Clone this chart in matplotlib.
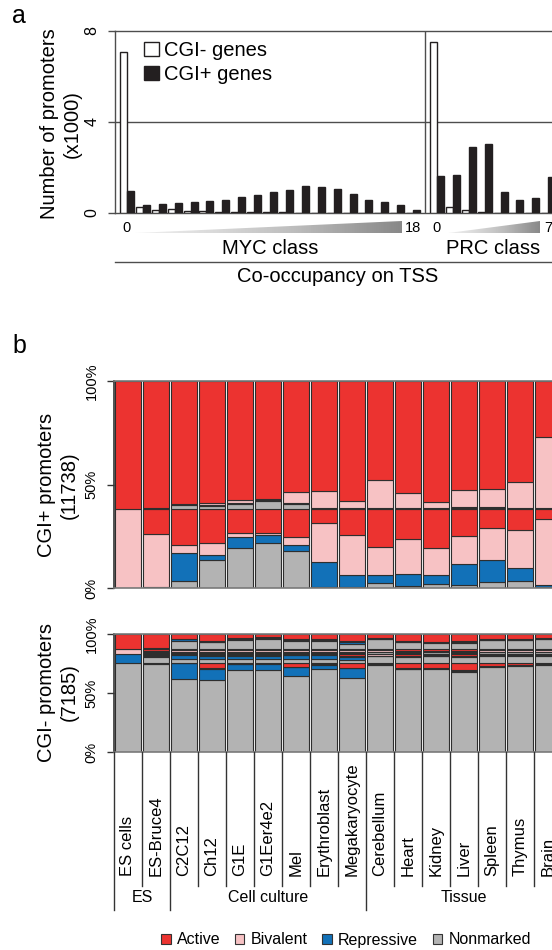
import matplotlib
matplotlib.use('Agg')
import matplotlib.pyplot as plt
import numpy as np
from matplotlib.patches import Patch, Polygon

plt.rcParams['font.family'] = ['Liberation Sans', 'DejaVu Sans']

# ---------------- panel a: number of promoters (x1000) per co-occupancy class
myc_classes = np.arange(19)
myc_cgi_neg = [7.09, 0.26, 0.15, 0.16, 0.10, 0.10, 0.05, 0.04, 0.04, 0.03,
               0.03, 0.02, 0.02, 0.02, 0.01, 0.01, 0.01, 0.01, 0.0]
myc_cgi_pos = [0.97, 0.34, 0.38, 0.44, 0.48, 0.54, 0.59, 0.70, 0.81, 0.91,
               1.01, 1.19, 1.13, 1.07, 0.85, 0.59, 0.48, 0.34, 0.12]
prc_classes = np.arange(8)
prc_cgi_neg = [7.53, 0.25, 0.15, 0.05, 0.02, 0.01, 0.01, 0.01]
prc_cgi_pos = [1.63, 1.68, 2.92, 3.02, 0.92, 0.56, 0.66, 1.57]

# ---------------- panel b: chromatin states (% of promoters)
cell_types = ['ES cells', 'ES-Bruce4', 'C2C12', 'Ch12', 'G1E', 'G1Eer4e2', 'Mel',
              'Erythroblast', 'Megakaryocyte', 'Cerebellum', 'Heart', 'Kidney',
              'Liver', 'Spleen', 'Thymus', 'Brain']
groups = ['ES', 'Cell culture', 'Tissue']
group_sizes = [2, 7, 7]
states = ['Nonmarked', 'Repressive', 'Bivalent', 'Active']

# CGI+ promoters, split by their state in ES cells; rows = cell types,
# columns = [Nonmarked, Repressive, Bivalent, Active]
pos_from_bivalent = [
    [0.0, 0.0, 38.3, 0.0], [0.5, 0.0, 25.6, 12.2], [3.2, 13.6, 4.2, 17.3],
    [13.7, 2.4, 5.4, 16.8], [19.4, 5.1, 2.3, 11.5], [21.9, 3.6, 1.0, 11.8],
    [17.7, 3.3, 3.8, 13.5], [0.5, 12.1, 18.9, 6.8], [0.5, 5.6, 19.4, 12.8],
    [2.6, 3.5, 13.6, 18.6], [1.0, 5.8, 17.1, 14.4], [1.9, 4.2, 13.3, 18.9],
    [1.6, 9.9, 13.7, 13.1], [2.9, 10.5, 15.8, 9.1], [3.4, 6.4, 18.3, 10.2],
    [0.3, 1.3, 31.6, 5.1]]
pos_from_active = [
    [0.0, 0.0, 0.0, 61.7], [0.3, 0.0, 0.2, 61.2], [1.6, 0.6, 0.3, 59.2],
    [1.4, 0.3, 0.9, 59.1], [2.5, 0.3, 1.2, 57.7], [3.6, 0.6, 0.3, 57.2],
    [2.5, 0.4, 5.0, 53.8], [0.3, 0.2, 7.9, 53.3], [0.3, 0.0, 3.5, 57.9],
    [0.0, 0.3, 13.5, 47.9], [0.0, 0.2, 7.3, 54.2], [0.0, 0.2, 3.1, 58.4],
    [0.4, 0.4, 8.2, 52.7], [0.3, 0.5, 8.8, 52.1], [0.0, 0.3, 12.4, 49.0],
    [0.0, 0.2, 34.6, 26.9]]

# CGI- promoters, split by their state in ES cells
neg_from_nonmarked = [
    [75.7, 0.0, 0.0, 0.0], [75.2, 0.2, 0.1, 0.2], [62.3, 13.0, 0.2, 0.2],
    [60.9, 10.0, 0.3, 4.5], [69.4, 5.2, 0.3, 0.8], [69.4, 5.8, 0.2, 0.3],
    [64.6, 7.6, 0.5, 3.0], [70.9, 3.4, 0.2, 1.2], [62.9, 8.5, 0.3, 4.0],
    [74.3, 0.5, 0.5, 0.4], [70.3, 0.5, 0.5, 4.4], [71.0, 0.3, 0.3, 4.1],
    [68.0, 0.8, 0.6, 6.3], [72.3, 0.5, 0.3, 2.6], [73.5, 0.4, 0.3, 1.5],
    [74.0, 0.5, 0.6, 0.6]]
neg_from_repressive = [
    [0.0, 8.0, 0.0, 0.0], [5.2, 0.8, 0.6, 1.4], [3.2, 3.4, 0.6, 0.8],
    [3.7, 2.5, 0.8, 1.0], [3.7, 2.2, 0.8, 1.3], [3.4, 2.4, 0.8, 1.4],
    [3.4, 3.0, 0.6, 1.0], [3.4, 3.2, 0.6, 0.8], [2.3, 2.4, 0.8, 2.5],
    [5.5, 0.6, 1.2, 0.7], [5.0, 0.5, 0.8, 1.7], [5.5, 0.4, 0.6, 1.5],
    [5.0, 0.5, 0.8, 1.7], [6.0, 0.4, 0.8, 0.8], [6.0, 0.4, 0.8, 0.8],
    [6.2, 0.4, 0.8, 0.6]]
neg_from_bivalent = [
    [0.0, 0.0, 3.7, 0.0], [0.5, 0.5, 1.2, 1.5], [0.6, 1.0, 1.1, 1.0],
    [0.6, 0.8, 1.3, 1.0], [0.6, 0.9, 1.2, 1.0], [0.6, 0.9, 1.2, 1.0],
    [0.6, 0.9, 1.2, 1.0], [0.5, 0.9, 1.3, 1.0], [0.5, 0.9, 1.3, 1.0],
    [1.0, 0.4, 1.3, 1.0], [0.8, 0.4, 1.2, 1.3], [1.0, 0.3, 1.2, 1.2],
    [0.8, 0.4, 1.2, 1.3], [1.0, 0.4, 1.3, 1.0], [1.0, 0.4, 1.3, 1.0],
    [1.0, 0.4, 1.3, 1.0]]
neg_from_active = [
    [0.0, 0.0, 0.0, 12.6], [0.6, 0.3, 0.3, 11.4], [6.9, 1.4, 0.6, 3.7],
    [5.7, 0.6, 0.6, 5.7], [7.4, 1.2, 0.8, 3.2], [8.3, 1.4, 0.6, 2.3],
    [6.8, 0.8, 0.6, 4.4], [6.6, 1.4, 1.0, 3.6], [4.5, 1.6, 0.8, 5.7],
    [8.4, 0.6, 0.6, 3.0], [5.9, 0.4, 0.6, 5.7], [5.5, 0.4, 0.4, 6.3],
    [5.5, 0.5, 0.9, 5.7], [7.6, 0.4, 0.6, 4.0], [7.6, 0.4, 0.6, 4.0],
    [8.6, 0.4, 0.6, 3.0]]

state_colors = {'Active': '#ec3330', 'Bivalent': '#f7c2c4',
                'Repressive': '#1271b8', 'Nonmarked': '#b3b3b3'}
dark = '#231f20'
line_col = '#4d4d4d'

W, H = 552, 950
fig = plt.figure(figsize=(W / 100, H / 100), dpi=100)


def fx(px):
    return px / W


def fy(py):
    return 1 - py / H


# ======================= panel a =======================
unit = 15.9
a_left, a_top, a_bot = 115, 31, 213
a_w = 28 * unit
ax = fig.add_axes([fx(a_left), fy(a_bot), a_w / W, (a_bot - a_top) / H])
x_myc = myc_classes.astype(float)
x_prc = prc_classes + 19.5
ax.bar(x_myc - 0.22, myc_cgi_neg, width=0.44, color='white', edgecolor=dark, lw=1, zorder=3)
ax.bar(x_myc + 0.22, myc_cgi_pos, width=0.44, color=dark, edgecolor=dark, lw=1, zorder=3)
ax.bar(x_prc - 0.22, prc_cgi_neg, width=0.44, color='white', edgecolor=dark, lw=1, zorder=3)
ax.bar(x_prc + 0.22, prc_cgi_pos, width=0.44, color=dark, edgecolor=dark, lw=1, zorder=3)
ax.axhline(4, color=line_col, lw=1, zorder=1)
ax.axvline(18.75, color=line_col, lw=1, zorder=1)
ax.set_xlim(-0.75, 27.25)
ax.set_ylim(0, 8)
ax.set_xticks([])
ax.set_yticks([0, 4, 8])
ax.tick_params(axis='y', length=5, width=1, color=line_col, labelsize=11.5,
               labelrotation=90, pad=6)
for lab in ax.get_yticklabels():
    lab.set_va('center')
for s in ['left', 'bottom', 'top']:
    ax.spines[s].set_color(line_col)
    ax.spines[s].set_linewidth(1)
ax.spines['right'].set_visible(False)
ax.legend([Patch(facecolor='white', edgecolor=dark), Patch(facecolor=dark, edgecolor=dark)],
          ['CGI- genes', 'CGI+ genes'], loc='upper left', bbox_to_anchor=(0.043, 1.0),
          frameon=False, fontsize=14.5, borderpad=0, handlelength=0.72, handleheight=0.68,
          handletextpad=0.25, labelspacing=0.25)

# annotation strip under panel a (y in pixels)
ax2 = fig.add_axes([fx(a_left), fy(285), a_w / W, (285 - a_bot) / H])
ax2.set_xlim(-0.75, 27.25)
ax2.set_ylim(285, a_bot)
ax2.axis('off')
grad = np.linspace(0.12, 0.55, 256).reshape(1, -1)
for x0, x1 in [(0.5, 17.3), (20.2, 26.0)]:
    tri = Polygon([(x0, 233), (x1, 233), (x1, 221)], closed=True, facecolor='none',
                  edgecolor='none')
    ax2.add_patch(tri)
    im = ax2.imshow(grad, cmap='Greys', vmin=0, vmax=1, aspect='auto',
                    extent=[x0, x1, 233, 221], interpolation='bilinear')
    im.set_clip_path(tri)
for xv, t in [(0, '0'), (18, '18'), (19.5, '0'), (26.5, '7')]:
    ax2.text(xv, 228, t, ha='center', va='center', fontsize=10.5)
ax2.text(9, 248, 'MYC class', ha='center', va='center', fontsize=14.5)
ax2.text(23, 248, 'PRC class', ha='center', va='center', fontsize=14.5)
ax2.plot([-0.75, 27.25], [262, 262], color=line_col, lw=1, clip_on=False)
ax2.text(13.25, 277, 'Co-occupancy on TSS', ha='center', va='center', fontsize=14.5)

fig.text(fx(61), fy(124), 'Number of promoters\n(x1000)', rotation=90, ha='center',
         va='center', fontsize=14.5, multialignment='center')
fig.text(fx(19), fy(16), 'a', ha='center', va='center', fontsize=18)

# ======================= panel b =======================
pitch = 28
b_left = 114
b_w = 16 * pitch
xcols = np.arange(len(cell_types))


def stacked(axb, group_list):
    bottoms = np.zeros(len(cell_types))
    for grp in group_list:
        arr = np.array(grp)
        for si, st in enumerate(states):
            vals = arr[:, si]
            m = vals > 0
            axb.bar(xcols[m], vals[m], bottom=bottoms[m], width=0.93,
                    color=state_colors[st], edgecolor='#2e2e2e', lw=0.8)
            bottoms += vals


def style_b(axb):
    axb.set_xlim(-0.5, 15.5)
    axb.set_ylim(0, 100)
    axb.set_xticks([])
    axb.set_yticks([0, 50, 100])
    axb.set_yticklabels(['0%', '50%', '100%'])
    axb.tick_params(axis='y', length=5, width=1, color='#333333', labelsize=10.5,
                    labelrotation=90, pad=6)
    for lab in axb.get_yticklabels():
        lab.set_va('center')
    axb.spines['left'].set_color('#333333')
    axb.spines['left'].set_linewidth(1.2)
    for s in ['top', 'bottom']:
        axb.spines[s].set_color('#7a7a7a')
        axb.spines[s].set_linewidth(1.2)
    axb.spines['right'].set_visible(False)


p_top, p_bot = 381, 588
axp = fig.add_axes([fx(b_left), fy(p_bot), b_w / W, (p_bot - p_top) / H])
stacked(axp, [pos_from_bivalent, pos_from_active])
style_b(axp)

n_top, n_bot = 634.3, 752.3
axn = fig.add_axes([fx(b_left), fy(n_bot), b_w / W, (n_bot - n_top) / H])
stacked(axn, [neg_from_nonmarked, neg_from_repressive, neg_from_bivalent, neg_from_active])
style_b(axn)

fig.text(fx(58), fy(485), 'CGI+ promoters\n(11738)', rotation=90, ha='center',
         va='center', fontsize=14.5, multialignment='center')
fig.text(fx(58), fy(692), 'CGI- promoters\n(7185)', rotation=90, ha='center',
         va='center', fontsize=14.5, multialignment='center')
fig.text(fx(19), fy(346), 'b', ha='center', va='center', fontsize=18)

# sample labels below the bars (y in pixels)
axl = fig.add_axes([fx(b_left), fy(915), b_w / W, (915 - n_bot) / H])
axl.set_xlim(-0.5, 15.5)
axl.set_ylim(915, n_bot)
axl.axis('off')
bounds = np.cumsum([0] + group_sizes)
for k in range(len(cell_types) + 1):
    y_end = 910 if k in bounds else 886
    axl.plot([k - 0.5, k - 0.5], [n_bot, y_end], color='#333333', lw=1, clip_on=False)
for i, name in enumerate(cell_types):
    axl.text(i, 876, name, rotation=90, ha='center', va='bottom', fontsize=12)
for gi, g in enumerate(groups):
    xc = (bounds[gi] + bounds[gi + 1]) / 2 - 0.5
    axl.text(xc, 897, g, ha='center', va='center', fontsize=11.5)

fig.legend([Patch(facecolor=state_colors[s], edgecolor='#333333', lw=0.8)
            for s in ['Active', 'Bivalent', 'Repressive', 'Nonmarked']],
           ['Active', 'Bivalent', 'Repressive', 'Nonmarked'],
           loc='center', bbox_to_anchor=(fx(346), fy(940)), ncol=4, frameon=False,
           fontsize=11.5, handlelength=0.6, handleheight=0.6, handletextpad=0.4,
           columnspacing=0.9, borderpad=0)

fig.savefig('out.png', dpi=100)
